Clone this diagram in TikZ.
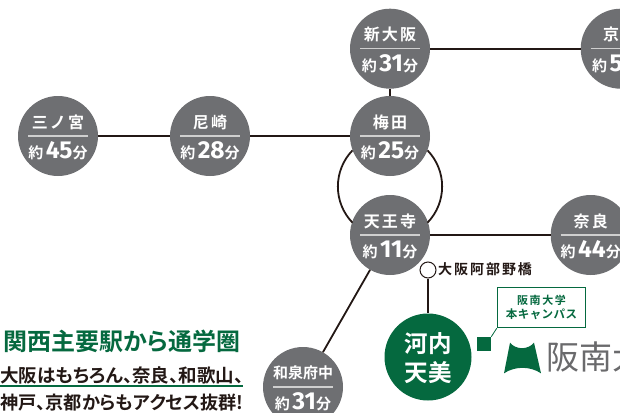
\documentclass[tikz,border=0pt]{standalone}
\usepackage{fontspec}
\setmainfont{Noto Sans CJK JP}[BoldFont={* Bold},RawFeature=+palt]
\newfontfamily\numfont{Fira Sans}[BoldFont={* Bold}]
\newfontfamily\spaced{Noto Sans CJK JP}[BoldFont={* Bold},LetterSpace=14]
\newfontfamily\tightsp{Noto Sans CJK JP}[BoldFont={* Bold},LetterSpace=4]
\newfontfamily\plainjp{Noto Sans CJK JP}[BoldFont={* Bold}]
\definecolor{stgray}{HTML}{6E6F72}
\definecolor{hgreen}{HTML}{05693F}
\definecolor{linek}{HTML}{231815}
\definecolor{rulegray}{HTML}{CFCFCF}
\definecolor{logogray}{HTML}{6A6A6C}
\tikzset{
  stn/.style={circle,fill=stgray,minimum size=80pt,inner sep=0pt},
  stntop/.style={text=white,font=\spaced\bfseries\fontsize{16}{16}\selectfont,inner sep=0pt},
  stnbot/.style={text=white,inner sep=0pt},
  conn/.style={draw=linek,line width=1.8pt},
  divider/.style={draw=rulegray,line width=1.2pt},
}
\newcommand{\timelabel}[1]{{\bfseries\fontsize{15}{15}\selectfont 約\,}{\numfont\bfseries\fontsize{24.5}{24.5}\selectfont #1}{\bfseries\fontsize{15}{15}\selectfont 分}}
\newcommand{\station}[5]{%
  \node[stn] (#1) at (#2,#3) {};
  \node[stntop] (#1-t) at (#2,#3-14) {#4};
  \node[stnbot] (#1-b) at (#2,#3+15) {\timelabel{#5}};
  \draw[divider] (#2-30,#3) -- (#2+30,#3);
}
\begin{document}
\begin{tikzpicture}[x=1pt,y=-1pt]
\useasboundingbox (0,0) rectangle (620,412);
\clip (0,0) rectangle (620,412);
\station{sannomiya}{58}{136}{三ノ宮}{45}
\station{amagasaki}{210}{136}{尼崎}{28}
\station{shinosaka}{390}{48.7}{新大阪}{31}
\station{umeda}{390}{136}{梅田}{25}
\station{tennoji}{390}{235}{天王寺}{11}
\station{nara}{590.7}{235}{奈良}{44}
\station{izumifuchu}{303}{387}{{\plainjp\bfseries\fontsize{15}{15}\selectfont 和泉府中}}{31}
\node[stn] (kyoto) at (620.7,48.7) {};
\node[stntop,anchor=west] (kyoto-t) at (603,34.7) {京};
\node[stnbot,anchor=west] (kyoto-b) at (592,63.7) {\timelabel{5}};
\draw[divider] (590.7,48.7) -- (620,48.7);
\node[circle,fill=hgreen,minimum size=87pt,inner sep=0pt] (amami) at (428,357) {};
\node[text=white,inner sep=0pt,font=\tightsp\bfseries\fontsize{23.5}{23.5}\selectfont] (amami-a) at (428,344) {河内};
\node[text=white,inner sep=0pt,font=\tightsp\bfseries\fontsize{23.5}{23.5}\selectfont] (amami-b) at (428,372.5) {天美};
\node[circle,draw=linek,fill=white,line width=1pt,minimum size=16pt,inner sep=0pt] (abeno) at (428,270) {};
\node[anchor=west,inner sep=0pt,text=linek,font=\spaced\bfseries\fontsize{14}{14}\selectfont] (abeno-l) at (438,269.5) {大阪阿部野橋};
\draw[conn] (sannomiya) -- (amagasaki);
\draw[conn] (amagasaki) -- (umeda);
\draw[conn] (shinosaka) -- (umeda);
\draw[conn] (shinosaka) -- (kyoto);
\draw[conn] (tennoji) -- (nara);
\draw[conn] (tennoji) -- (izumifuchu);
\draw[conn] (abeno) -- (amami);
\draw[conn] (umeda.-21) arc[start angle=-44,end angle=44,radius=52];
\draw[conn] (umeda.-159) arc[start angle=-136,end angle=-224,radius=52];
% campus marker
\node[fill=hgreen,minimum size=14pt,inner sep=0pt] (campus) at (484,344) {};
\node[draw=hgreen,fill=white,line width=1.5pt,minimum width=88pt,minimum height=40pt,inner sep=0pt] (cbox) at (541.5,307.5) {};
\node[inner sep=0pt,text=hgreen,font=\spaced\bfseries\fontsize{11}{11}\selectfont] (cbox-a) at (541.5,300) {阪南大学};
\node[inner sep=0pt,text=hgreen,font=\tightsp\bfseries\fontsize{11.5}{11.5}\selectfont] (cbox-b) at (541.5,314.5) {本キャンパス};
\draw[draw=hgreen,line width=.8pt] (campus.north east) -- (cbox.south west);
% logo
\fill[hgreen] (510,342.7) .. controls (516,350) and (528,350) .. (534,342.7) -- (541,373.3) .. controls (530,366) and (515,366) .. (504,373.3) -- cycle;
\node[anchor=west,inner sep=0pt,text=logogray,font=\fontsize{33}{33}\selectfont] (logo-t) at (546,357) {阪南大学};
% text block
\node[anchor=west,inner sep=0pt,text=hgreen,font=\bfseries\fontsize{24}{24}\selectfont] (title) at (3,341) {関西主要駅から通学圏};
\node[anchor=west,inner sep=0pt,text=linek,font=\bfseries\fontsize{18.5}{18.5}\selectfont] (line-a) at (0,375) {大阪はもちろん、奈良、和歌山、};
\coordinate (rule-a) at (0,386);
\coordinate (rule-b) at (243,386);
\draw[draw=hgreen,line width=1.4pt] (rule-a) -- (rule-b);
\node[anchor=west,inner sep=0pt,text=linek,font=\bfseries\fontsize{18.2}{18.2}\selectfont] (line-b) at (0,403) {神戸、京都からもアクセス抜群!};
\end{tikzpicture}
\end{document}
